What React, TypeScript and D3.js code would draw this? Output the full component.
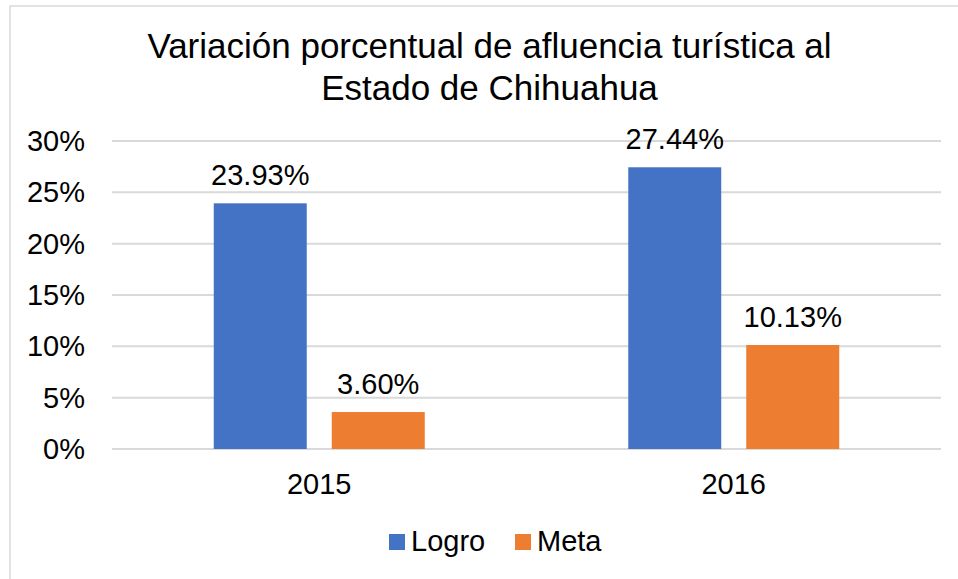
import React from "react";
import * as d3 from "d3";

const categories = ["2015", "2016"];
const seriesNames = ["Logro", "Meta"];
const logro = [23.93, 27.44];
const meta = [3.6, 10.13];
const yTicks = [0, 5, 10, 15, 20, 25, 30];
const colors = ["#4472C4", "#ED7D31"];
const titleLines = ["Variación porcentual de afluencia turística al", "Estado de Chihuahua"];

export default function App() {
  const W = 958, H = 579;
  const left = 112, right = 941, top = 141, bottom = 449;
  const font = "'Liberation Sans', Arial, sans-serif";
  const y = d3.scaleLinear().domain([0, 30]).range([bottom, top]);
  const x0 = d3.scaleBand<string>().domain(categories).range([left, right]).padding(0);
  const bw = x0.bandwidth();
  const x1 = d3.scaleBand<string>().domain(seriesNames).range([bw * 0.2455, bw * 0.7545]).paddingInner(0.212).paddingOuter(0);
  const values = [logro, meta];

  return (
    <svg width={W} height={H} style={{ position: "absolute", left: 0, top: 0, background: "#fff" }} fontFamily={font}>
      <rect x={0} y={0} width={W} height={H} fill="#fff" />
      <rect x={10} y={6} width={W + 20} height={H + 20} fill="#fff" stroke="#D9D9D9" strokeWidth={1.5} />
      {titleLines.map((t, i) => (
        <text key={i} x={489.5} y={58 + i * 42} textAnchor="middle" fontSize={35} fill="#000">{t}</text>
      ))}
      {yTicks.map((t) => (
        <g key={t}>
          <line x1={left} x2={right} y1={y(t)} y2={y(t)} stroke="#D9D9D9" strokeWidth={2} />
          <text x={85} y={y(t) + 10} textAnchor="end" fontSize={29} fill="#000">{t}%</text>
        </g>
      ))}
      {categories.map((c, ci) => (
        <g key={c}>
          {seriesNames.map((s, si) => {
            const v = values[si][ci];
            const bx = (x0(c) ?? 0) + (x1(s) ?? 0);
            return (
              <g key={s}>
                <rect x={bx} y={y(v)} width={x1.bandwidth()} height={y(0) - y(v)} fill={colors[si]} />
                <text x={bx + x1.bandwidth() / 2} y={y(v) - 18} textAnchor="middle" fontSize={29} fill="#000">
                  {v.toFixed(2)}%
                </text>
              </g>
            );
          })}
          <text x={(x0(c) ?? 0) + bw / 2} y={494} textAnchor="middle" fontSize={29} fill="#000">{c}</text>
        </g>
      ))}
      {seriesNames.map((s, i) => {
        const lx = [389, 515][i];
        return (
          <g key={s}>
            <rect x={lx} y={534} width={16} height={16} fill={colors[i]} />
            <text x={lx + 22} y={551} fontSize={29} fill="#000">{s}</text>
          </g>
        );
      })}
    </svg>
  );
}
